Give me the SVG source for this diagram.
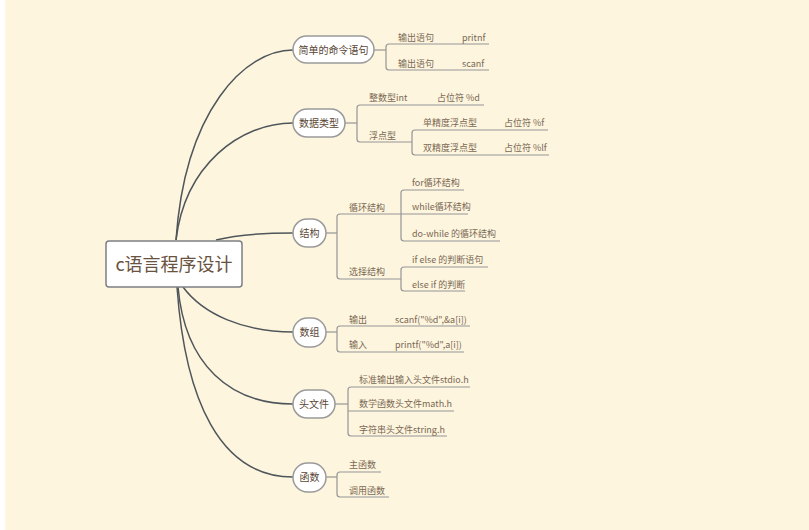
<svg xmlns="http://www.w3.org/2000/svg" width="809" height="530" viewBox="0 0 809 530">
<style>
.bg{fill:#fdf5de}
.root{fill:#ffffff;stroke:#7c8084;stroke-width:1.5}
.pill{fill:#ffffff;stroke:#9a9a9a;stroke-width:1.5}
.main{fill:none;stroke:#4f565b;stroke-width:1.5}
.sub{fill:none;stroke:#959595;stroke-width:1.2}
text{font-family:"Noto Sans CJK SC","Microsoft YaHei",sans-serif}
.rt{font-size:18px;fill:#6a5240;text-anchor:middle}
.nt{font-size:10px;fill:#5a4634;text-anchor:middle}
.lt{font-size:9px;fill:#7a6854}
</style>
<rect class="bg" x="5" y="0" width="804" height="530"/>

<g id="connectors">
  <path class="main" d="M176,240 C185,110 245,50 293,50"/>
  <path class="main" d="M176,240 C185,165 240,123 293,123"/>
  <path class="main" d="M216,240 C240,234 265,233 293,233"/>
  <path class="main" d="M183,287 C203,314 243,332 293,332"/>
  <path class="main" d="M178,287 C185,365 230,404 293,404"/>
  <path class="main" d="M177,287 C185,400 220,477 293,477"/>

  <path class="sub" d="M374,50 H386"/>
  <path class="sub" d="M489,44 H389 Q386,44 386,47 V67 Q386,70 389,70 H489"/>
  <path class="sub" d="M345,123 H357"/>
  <path class="sub" d="M484,105 H360 Q357,105 357,108 V139 Q357,142 360,142 H412"/>
  <path class="sub" d="M548,130 H415 Q412,130 412,133 V152 Q412,155 415,155 H549"/>
  <path class="sub" d="M326,233 H337"/>
  <path class="sub" d="M337,233 V217 Q337,214 340,214 H401"/>
  <path class="sub" d="M337,233 V276 Q337,279 340,279 H401"/>
  <path class="sub" d="M464,190 H404 Q401,190 401,193 V238 Q401,241 404,241 H500"/>
  <path class="sub" d="M401,214 H468"/>
  <path class="sub" d="M488,267 H404 Q401,267 401,270 V288 Q401,291 404,291 H465"/>
  <path class="sub" d="M326,332 H337"/>
  <path class="sub" d="M470,326 H340 Q337,326 337,329 V349 Q337,352 340,352 H464"/>
  <path class="sub" d="M335,404 H348"/>
  <path class="sub" d="M470,387 H351 Q348,387 348,390 V433 Q348,436 351,436 H447"/>
  <path class="sub" d="M348,411 H454"/>
  <path class="sub" d="M326,477 H337"/>
  <path class="sub" d="M381,472 H340 Q337,472 337,475 V494 Q337,497 340,497 H389"/>
</g>

<g id="root">
  <rect class="root" x="106" y="241" width="136" height="46" rx="3"/>
  <text class="rt" x="174" y="271">c语言程序设计</text>
</g>

<g id="n1">
  <rect class="pill" x="293" y="36" width="81" height="27" rx="13.5"/>
  <text class="nt" x="333.5" y="53.5">简单的命令语句</text>
</g>
<g id="n1a"><text class="lt" x="398" y="41">输出语句</text><text class="lt" x="462" y="41">pritnf</text></g>
<g id="n1b"><text class="lt" x="398" y="67">输出语句</text><text class="lt" x="462" y="67">scanf</text></g>

<g id="n2">
  <rect class="pill" x="293" y="109" width="52" height="28" rx="14"/>
  <text class="nt" x="319" y="126.5">数据类型</text>
</g>
<g id="n2a"><text class="lt" x="369" y="101">整数型int</text><text class="lt" x="437" y="101">占位符 %d</text></g>
<g id="n2b"><text class="lt" x="369" y="139">浮点型</text></g>
<g id="n2b1"><text class="lt" x="423" y="126">单精度浮点型</text><text class="lt" x="504" y="126">占位符 %f</text></g>
<g id="n2b2"><text class="lt" x="423" y="151">双精度浮点型</text><text class="lt" x="504" y="151">占位符 %lf</text></g>

<g id="n3">
  <rect class="pill" x="293" y="219" width="33" height="28" rx="14"/>
  <text class="nt" x="309.5" y="236.5">结构</text>
</g>
<g id="n3a"><text class="lt" x="349" y="211">循环结构</text></g>
<g id="n3a1"><text class="lt" x="412" y="186">for循环结构</text></g>
<g id="n3a2"><text class="lt" x="412" y="210">while循环结构</text></g>
<g id="n3a3"><text class="lt" x="412" y="237">do-while 的循环结构</text></g>
<g id="n3b"><text class="lt" x="349" y="275">选择结构</text></g>
<g id="n3b1"><text class="lt" x="412" y="263">if else 的判断语句</text></g>
<g id="n3b2"><text class="lt" x="412" y="288">else if 的判断</text></g>

<g id="n4">
  <rect class="pill" x="293" y="318" width="33" height="29" rx="14.5"/>
  <text class="nt" x="309.5" y="336">数组</text>
</g>
<g id="n4a"><text class="lt" x="349" y="323">输出</text><text class="lt" x="395" y="323">scanf("%d",&amp;a[i])</text></g>
<g id="n4b"><text class="lt" x="349" y="348">输入</text><text class="lt" x="395" y="348">printf("%d",a[i])</text></g>

<g id="n5">
  <rect class="pill" x="293" y="390" width="42" height="28" rx="14"/>
  <text class="nt" x="314" y="407.5">头文件</text>
</g>
<g id="n5a"><text class="lt" x="359" y="383">标准输出输入头文件stdio.h</text></g>
<g id="n5b"><text class="lt" x="359" y="407">数学函数头文件math.h</text></g>
<g id="n5c"><text class="lt" x="359" y="433">字符串头文件string.h</text></g>

<g id="n6">
  <rect class="pill" x="293" y="463" width="33" height="29" rx="14.5"/>
  <text class="nt" x="309.5" y="481">函数</text>
</g>
<g id="n6a"><text class="lt" x="349" y="468">主函数</text></g>
<g id="n6b"><text class="lt" x="349" y="494">调用函数</text></g>
</svg>
